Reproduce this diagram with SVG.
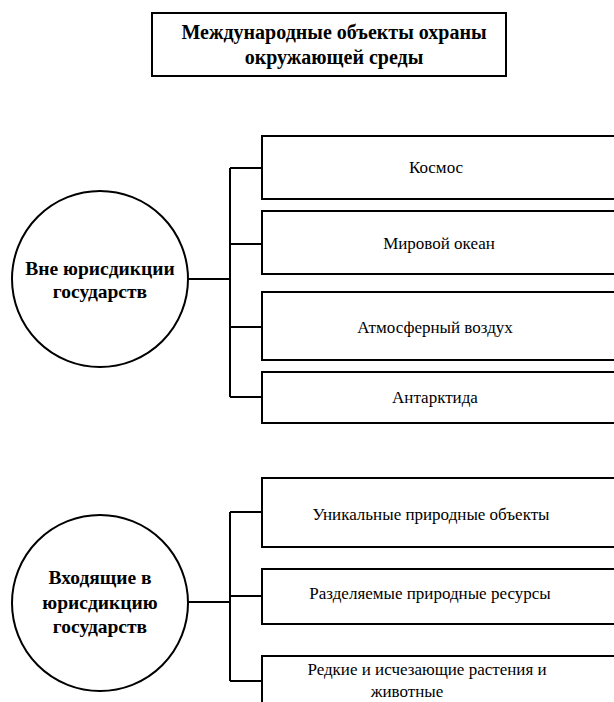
<svg xmlns="http://www.w3.org/2000/svg" width="614" height="702" viewBox="0 0 614 702">
<style>
.box{fill:#fff;stroke:#000;stroke-width:2}
.circ{fill:#fff;stroke:#000;stroke-width:2}
.ln{fill:none;stroke:#000;stroke-width:2}
text{font-family:"Liberation Serif","DejaVu Serif",serif;fill:#000;text-anchor:middle}
.t{font-size:17px}
.b{font-size:19.5px;font-weight:bold}
.h{font-size:20px;font-weight:bold}
</style>
<rect width="614" height="702" fill="#fff"/>
<g id="connectors">
<path class="ln" d="M188 279H230M230 168V397M230 168H262M230 244H262M230 327H262M230 397H262"/>
<path class="ln" d="M188 602H230M230 512V681M230 512H262M230 596H262M230 681H262"/>
</g>
<g id="title">
<rect class="box" x="152" y="13" width="354" height="63"/>
<text class="h" x="334" y="39">Международные объекты охраны</text>
<text class="h" x="334" y="64">окружающей среды</text>
</g>
<g id="outside">
<circle class="circ" cx="100" cy="279" r="88"/>
<text class="b" x="100" y="275">Вне юрисдикции</text>
<text class="b" x="100" y="298">государств</text>
</g>
<g id="kosmos">
<rect class="box" x="262" y="136" width="360" height="63"/>
<text class="t" x="436" y="173">Космос</text>
</g>
<g id="ocean">
<rect class="box" x="262" y="211" width="360" height="63"/>
<text class="t" x="439" y="249">Мировой океан</text>
</g>
<g id="air">
<rect class="box" x="262" y="292" width="360" height="68"/>
<text class="t" x="435" y="333">Атмосферный воздух</text>
</g>
<g id="antarctic">
<rect class="box" x="262" y="372" width="360" height="51"/>
<text class="t" x="435" y="403">Антарктида</text>
</g>
<g id="inside">
<circle class="circ" cx="100" cy="603" r="88"/>
<text class="b" x="100" y="584">Входящие в</text>
<text class="b" x="100" y="609">юрисдикцию</text>
<text class="b" x="100" y="633">государств</text>
</g>
<g id="unique">
<rect class="box" x="262" y="478" width="360" height="69"/>
<text class="t" x="431" y="520">Уникальные природные объекты</text>
</g>
<g id="shared">
<rect class="box" x="262" y="569" width="360" height="55"/>
<text class="t" x="430" y="599">Разделяемые природные ресурсы</text>
</g>
<g id="rare">
<rect class="box" x="262" y="656" width="360" height="60"/>
<text class="t" x="427" y="675">Редкие и исчезающие растения и</text>
<text class="t" x="407" y="697">животные</text>
</g>
</svg>
